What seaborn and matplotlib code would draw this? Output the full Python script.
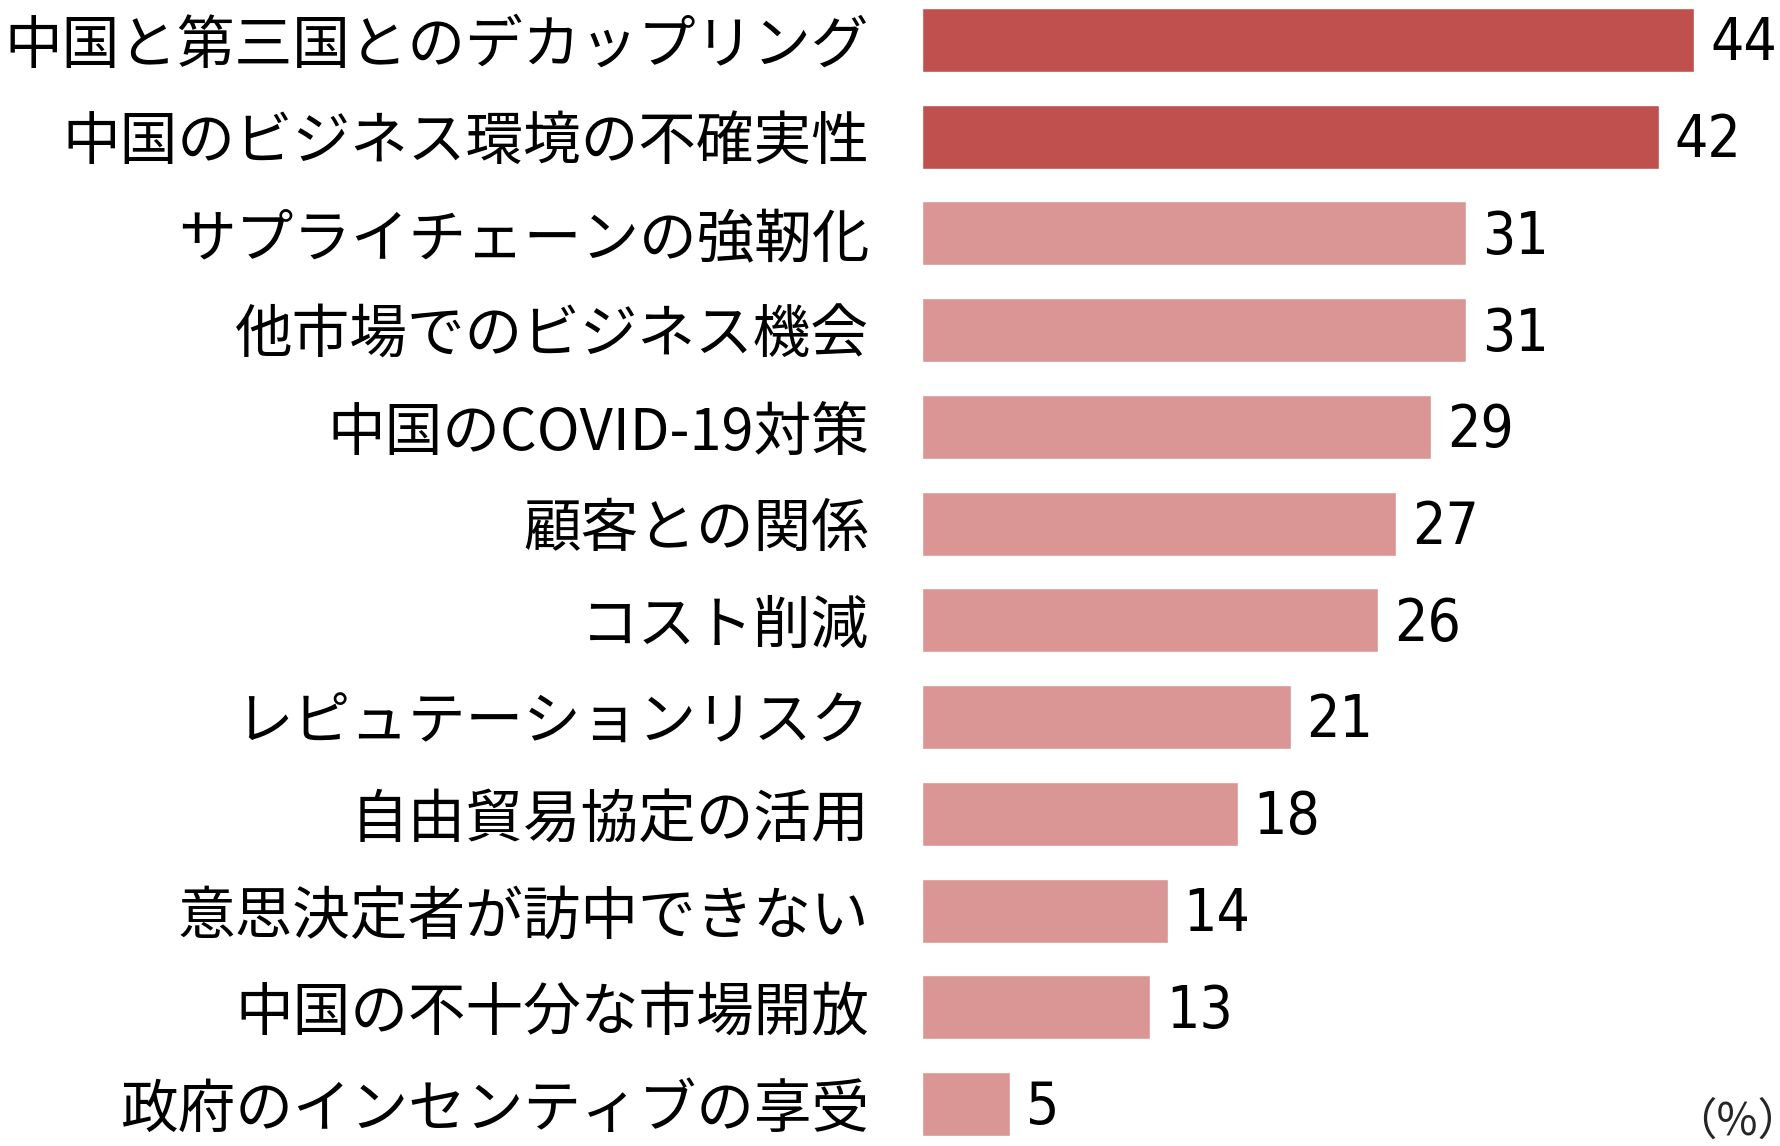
import matplotlib
matplotlib.use("Agg")
import matplotlib.pyplot as plt
import seaborn as sns
import pandas as pd

categories = [
    "中国と第三国とのデカップリング",
    "中国のビジネス環境の不確実性",
    "サプライチェーンの強靭化",
    "他市場でのビジネス機会",
    "中国のCOVID-19対策",
    "顧客との関係",
    "コスト削減",
    "レピュテーションリスク",
    "自由貿易協定の活用",
    "意思決定者が訪中できない",
    "中国の不十分な市場開放",
    "政府のインセンティブの享受",
]
values = [44, 42, 31, 31, 29, 27, 26, 21, 18, 14, 13, 5]
highlight = [True, True] + [False] * 10

dark_red = "#C0504D"
light_red = "#D99694"
colors = [dark_red if h else light_red for h in highlight]

sns.set_theme(style="white")
plt.rcParams['font.family'] = ['Noto Sans CJK JP', 'DejaVu Sans']

df = pd.DataFrame({"category": categories, "value": values})

W, H = 1781, 1146
fig = plt.figure(figsize=(W / 100, H / 100), dpi=100)
ax = fig.add_axes([922 / W, 10 / H, (W - 922) / W, 1128 / H])

sns.barplot(data=df, x="value", y="category", hue="category",
            palette=colors, orient="h", width=0.66, legend=False,
            saturation=1, ax=ax)

ax.set_xlim(0, (W - 922) / 17.55)
ax.set_ylim(11.33, -0.33)
ax.set_xlabel("")
ax.set_ylabel("")
ax.set_xticks([])
sns.despine(ax=ax, left=True, bottom=True, top=True, right=True)
ax.tick_params(axis="y", length=0, pad=38, labelsize=41.5)
for lbl in ax.get_yticklabels():
    lbl.set_color("black")

num_font = ['Liberation Sans Narrow', 'DejaVu Sans Condensed', 'DejaVu Sans']
for i, v in enumerate(values):
    ax.text(v + 0.9, i + 0.04, str(v), va="center", ha="left", fontsize=42,
            family=num_font, stretch="condensed", color="black")

fig.text(1672 / W, 1 - 1122 / H, "（%）", fontsize=32, ha="left", va="center",
         family=['Noto Sans CJK JP', 'DejaVu Sans'])

fig.savefig("out.png", dpi=100)
